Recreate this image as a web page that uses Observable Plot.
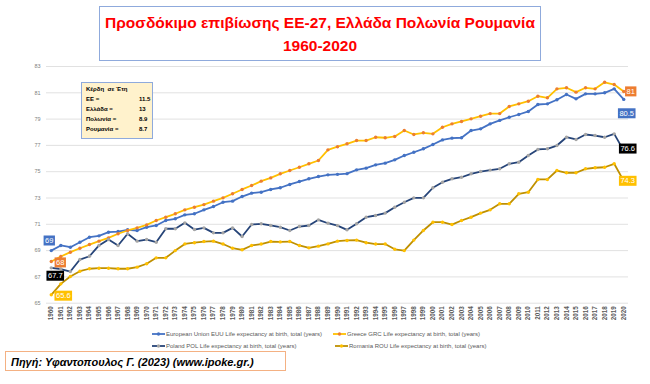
<!DOCTYPE html>
<html><head><meta charset="utf-8">
<script src="https://cdn.jsdelivr.net/npm/d3@7"></script>
<script src="https://cdn.jsdelivr.net/npm/@observablehq/plot@0.6"></script>
<style>
body{margin:0;background:#fff;font-family:"Liberation Sans",Arial,sans-serif}
#wrap{position:relative;width:650px;height:384px;overflow:hidden}
#wrap svg{position:absolute;left:0;top:0}
.abs{position:absolute;white-space:nowrap}
#title{left:99px;top:6px;width:440px;height:49px;border:1px solid #8faadc;color:#ff0000;font-weight:bold;font-size:15.5px;line-height:23px;text-align:center;padding-top:4px;box-sizing:content-box}
#info{left:81px;top:82px;width:70px;height:55px;background:#fff2cc;border:1px solid #8faadc;font-size:6px;font-weight:bold;color:#000}
#info span{position:absolute}
.leg{font-size:6px;color:#595959;line-height:8px}
.legm{position:absolute;width:13px;height:8px}
#source{left:5px;top:351px;width:281px;height:20px;border:1px solid #f4b183;font-style:italic;font-weight:bold;font-size:11px;line-height:20px;padding-left:5px;box-sizing:border-box;color:#000}
</style></head><body><div id="wrap"></div>
<script>
const years = d3.range(1960, 2021);
const yTicks = [65, 67, 69, 71, 73, 75, 77, 79, 81, 83];
const euValues = [69.0,69.39,69.26,69.64,70.02,70.12,70.4,70.45,70.58,70.53,
 70.78,70.91,71.29,71.42,71.72,71.8,72.1,72.35,72.68,72.76,
 73.11,73.37,73.44,73.65,73.78,74.03,74.25,74.46,74.63,74.76,
 74.8,74.85,75.14,75.27,75.52,75.65,75.9,76.23,76.48,76.74,
 77.07,77.42,77.55,77.58,78.13,78.26,78.64,78.9,79.14,79.35,
 79.58,80.11,80.16,80.47,80.87,80.54,80.92,80.92,81.0,81.3,
 80.5];
const greeceValues = [68.17,68.55,68.88,69.18,69.46,69.72,69.97,70.28,70.53,70.73,
 70.96,71.29,71.54,71.8,72.1,72.3,72.5,72.76,73.01,73.32,
 73.65,73.95,74.28,74.53,74.84,75.09,75.34,75.6,75.85,76.66,
 76.9,77.12,77.37,77.37,77.62,77.58,77.68,78.13,77.83,77.96,
 77.88,78.38,78.64,78.82,79.02,79.22,79.42,79.42,79.96,80.16,
 80.36,80.74,80.62,81.3,81.38,81.05,81.38,81.3,81.8,81.63,
 81.1];
const polandValues = [67.69,67.6,67.41,68.32,68.57,69.39,69.84,69.39,70.28,69.72,
 69.84,69.64,70.66,70.66,71.11,70.6,70.73,70.35,70.35,70.73,
 70.07,70.98,71.04,70.91,70.78,70.53,70.83,70.91,71.34,71.08,
 70.9,70.58,71.04,71.54,71.67,71.85,72.3,72.68,73.01,73.01,
 73.78,74.2,74.46,74.58,74.84,75.01,75.12,75.22,75.6,75.72,
 76.23,76.69,76.74,76.99,77.62,77.45,77.83,77.75,77.62,77.88,
 76.6];
const romaniaValues = [65.64,66.47,67.03,67.43,67.62,67.66,67.66,67.62,67.62,67.74,
 68.0,68.45,68.45,69.0,69.51,69.6,69.69,69.72,69.5,69.18,
 69.06,69.39,69.5,69.69,69.66,69.69,69.39,69.21,69.34,69.51,
 69.72,69.77,69.8,69.6,69.5,69.5,69.1,69.0,69.8,70.53,
 71.16,71.16,70.98,71.29,71.54,71.85,72.1,72.56,72.56,73.32,
 73.44,74.41,74.41,75.09,74.92,74.92,75.22,75.3,75.34,75.6,
 74.3];
const seriesNames = ["European Union EUU Life expectancy at birth, total (years)",
 "Greece GRC Life expectancy at birth, total (years)",
 "Poland POL Life expectancy at birth, total (years)",
 "Romania ROU Life expectancy at birth, total (years)"];
const gainLabels = ["ΕΕ =", "Ελλάδα =", "Πολωνία =", "Ρουμανία ="];
const gainValues = ["11.5", "13", "8.9", "8.7"];
const titleLines = ["Προσδόκιμο επιβίωσης ΕΕ-27, Ελλάδα Πολωνία Ρουμανία", "1960-2020"];
const sourceText = "Πηγή: Υφαντοπουλος Γ. (2023)  (www.ipoke.gr.)";

const series = [
  {values: euValues, line: "#4472c4", dot: "#4472c4"},
  {values: greeceValues, line: "#ffc000", dot: "#ed7d31"},
  {values: polandValues, line: "#264478", dot: "#a5a5a5"},
  {values: romaniaValues, line: "#bf9000", dot: "#ffc000"}
];
const rowsOf = s => s.values.map((v, i) => ({year: years[i], value: v}));

// data labels: series index, year index, text, box color, offsets
const labels = [
  {s: 0, i: 0, text: "69", bg: "#4472c4", dx: -2, dy: -10},
  {s: 1, i: 0, text: "68", bg: "#ed7d31", dx: 9, dy: 1},
  {s: 2, i: 0, text: "67.7", bg: "#000000", dx: 4, dy: 8},
  {s: 3, i: 0, text: "65.6", bg: "#ffc000", dx: 12, dy: 1},
  {s: 1, i: 60, text: "81", bg: "#ed7d31", dx: 7, dy: 0},
  {s: 0, i: 60, text: "80.5", bg: "#4472c4", dx: 3, dy: 14},
  {s: 2, i: 60, text: "76.6", bg: "#000000", dx: 4, dy: -2},
  {s: 3, i: 60, text: "74.3", bg: "#ffc000", dx: 4, dy: 0}
];

const marks = [
  Plot.ruleY(yTicks, {stroke: "#d9d9d9", strokeWidth: 0.8}),
  Plot.axisY(yTicks, {tickSize: 0, tickPadding: 6, fontSize: 5.5, fill: "#7f7f7f", label: null}),
  Plot.axisX(years, {tickSize: 0, tickRotate: -90, tickPadding: 3, fontSize: 6.3, fontWeight: "bold", fill: "#595959", label: null, tickFormat: d => String(d)})
];
series.forEach(s => {
  marks.push(Plot.line(rowsOf(s), {x: "year", y: "value", stroke: s.line, strokeWidth: 1.8}));
  marks.push(Plot.dot(rowsOf(s), {x: "year", y: "value", fill: s.dot, r: 1.7}));
});
labels.forEach((l, k) => {
  marks.push(Plot.text([{year: years[l.i], value: series[l.s].values[l.i], t: l.text}],
    {x: "year", y: "value", text: "t", dx: l.dx, dy: l.dy, fill: "white", fontSize: 7.5, className: "lbl" + k}));
});

const chart = Plot.plot({
  width: 650, height: 384,
  marginLeft: 46, marginRight: 22, marginTop: 66, marginBottom: 81.3,
  style: {background: "transparent", fontFamily: "Liberation Sans, Arial, sans-serif"},
  x: {type: "point", domain: years, padding: 0.5, axis: null, label: null},
  y: {domain: [65, 83], axis: null, label: null},
  marks
});
const wrap = document.getElementById("wrap");
wrap.appendChild(chart);

// boxes behind data labels
labels.forEach((l, k) => {
  d3.select(chart).selectAll(".lbl" + k + " text").each(function() {
    const b = this.getBBox();
    const parent = this.parentNode;
    const r = document.createElementNS("http://www.w3.org/2000/svg", "rect");
    r.setAttribute("x", b.x - 1.5); r.setAttribute("y", b.y - 0.5);
    r.setAttribute("width", b.width + 3); r.setAttribute("height", b.height + 1);
    r.setAttribute("fill", l.bg);
    const tr = this.getAttribute("transform");
    if (tr) r.setAttribute("transform", tr);
    parent.insertBefore(r, this);
  });
});

// title
const title = document.createElement("div");
title.className = "abs"; title.id = "title";
title.innerHTML = titleLines.join("<br>");
wrap.appendChild(title);

// info box
const info = document.createElement("div");
info.className = "abs"; info.id = "info";
let html = `<span style="left:4px;top:3px">Κέρδη&nbsp;&nbsp;σε Έτη</span>`;
gainLabels.forEach((g, i) => {
  html += `<span style="left:4px;top:${13 + i * 10}px">${g}</span>`;
  html += `<span style="left:57px;top:${13 + i * 10}px">${gainValues[i]}</span>`;
});
info.innerHTML = html;
wrap.appendChild(info);

// legend
const legPos = [[152, 330], [333, 330], [152, 342], [335, 342]];
series.forEach((s, i) => {
  const [lx, ly] = legPos[i];
  const m = document.createElement("div");
  m.className = "abs legm";
  m.style.left = lx + "px"; m.style.top = ly + "px";
  m.innerHTML = `<svg width="13" height="8"><line x1="0" x2="13" y1="4" y2="4" stroke="${s.line}" stroke-width="1.8"/><circle cx="6.5" cy="4" r="1.7" fill="${s.dot}"/></svg>`;
  wrap.appendChild(m);
  const t = document.createElement("div");
  t.className = "abs leg";
  t.style.left = (lx + 14) + "px"; t.style.top = ly + "px";
  t.textContent = seriesNames[i];
  wrap.appendChild(t);
});

// source
const src = document.createElement("div");
src.className = "abs"; src.id = "source";
src.textContent = sourceText;
wrap.appendChild(src);
</script>
</body></html>
